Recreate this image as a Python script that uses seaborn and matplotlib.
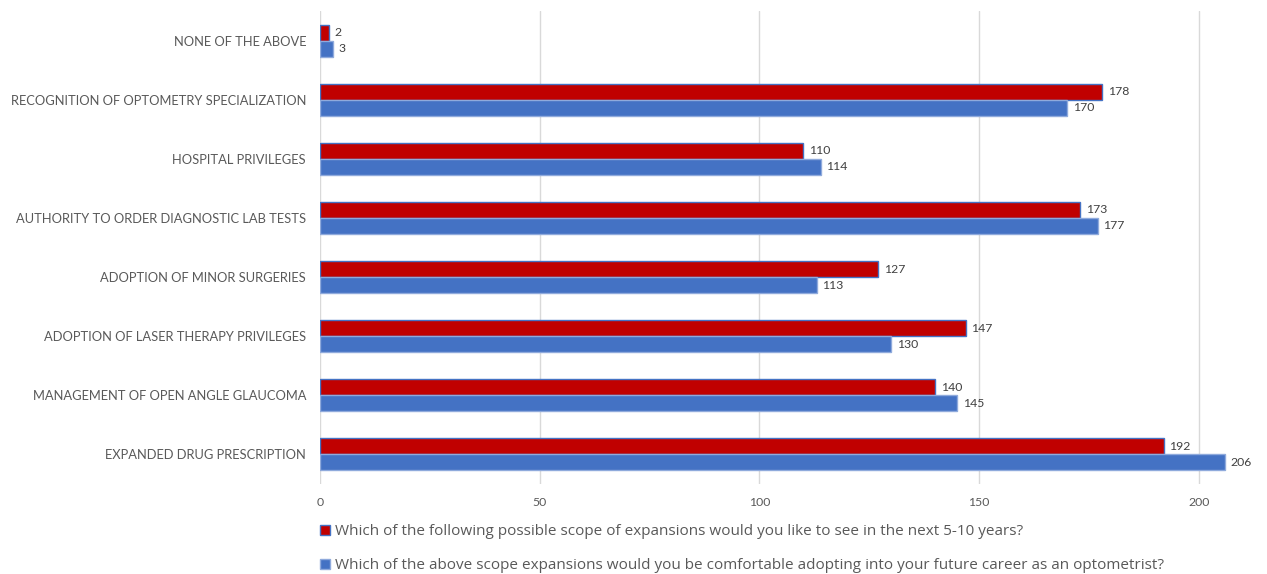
import matplotlib
matplotlib.use("Agg")
import matplotlib.pyplot as plt
import seaborn as sns
import pandas as pd
from matplotlib.patches import Patch

categories = [
    "NONE OF THE ABOVE",
    "RECOGNITION OF OPTOMETRY SPECIALIZATION",
    "HOSPITAL PRIVILEGES",
    "AUTHORITY TO ORDER DIAGNOSTIC LAB TESTS",
    "ADOPTION OF MINOR SURGERIES",
    "ADOPTION OF LASER THERAPY PRIVILEGES",
    "MANAGEMENT OF OPEN ANGLE GLAUCOMA",
    "EXPANDED DRUG PRESCRIPTION",
]
series_names = [
    "Which of the following possible scope of expansions would you like to see in the next 5-10 years?",
    "Which of the above scope expansions would you be comfortable adopting into your future career as an optometrist?",
]
like_to_see = [2, 178, 110, 173, 127, 147, 140, 192]
comfortable = [3, 170, 114, 177, 113, 130, 145, 206]
x_ticks = [0, 50, 100, 150, 200]

colors = ["#C00000", "#4472C4"]
edges = ["#4472C4", "#8FAADC"]

df = pd.DataFrame({
    "category": categories * 2,
    "series": [series_names[0]] * len(categories) + [series_names[1]] * len(categories),
    "value": like_to_see + comfortable,
})

sns.set_theme(style="white")
plt.rcParams["font.family"] = ["Lato", "DejaVu Sans"]

fig = plt.figure(figsize=(12.67, 5.74), dpi=100)
ax = fig.add_axes([320 / 1267, 1 - 484 / 574, (1245 - 320) / 1267, (484 - 11) / 574])

sns.barplot(data=df, x="value", y="category", hue="series", order=categories,
            hue_order=series_names, palette=colors, saturation=1, orient="h", width=0.54,
            ax=ax, legend=False)

for i, cont in enumerate(ax.containers):
    for p in cont:
        p.set_edgecolor(edges[i])
        p.set_linewidth(1.0)
    ax.bar_label(cont, padding=4, fontsize=8.8, color="#404040")

ax.set_xlim(0, 210.5)
ax.set_xticks(x_ticks)
ax.set_xlabel("")
ax.set_ylabel("")
ax.grid(axis="x", color="#D9D9D9", linewidth=1)
ax.set_axisbelow(True)
for s in ax.spines.values():
    s.set_visible(False)
ax.tick_params(axis="x", length=0, labelsize=8.8, labelcolor="#595959", pad=9)
ax.tick_params(axis="y", length=0, labelsize=9.3, labelcolor="#595959", pad=10)

handles = [Patch(facecolor=colors[0], edgecolor=edges[0]),
           Patch(facecolor=colors[1], edgecolor=edges[1])]
fig.legend(handles, series_names, loc="upper left", bbox_to_anchor=(314 / 1267, 1 - 518 / 574),
           frameon=False, prop={"family": ["Open Sans", "DejaVu Sans"], "size": 11},
           labelcolor="#595959", handlelength=0.65,
           handleheight=0.65, handletextpad=0.3, labelspacing=1.25, borderaxespad=0)

fig.savefig("out.png", dpi=100)
